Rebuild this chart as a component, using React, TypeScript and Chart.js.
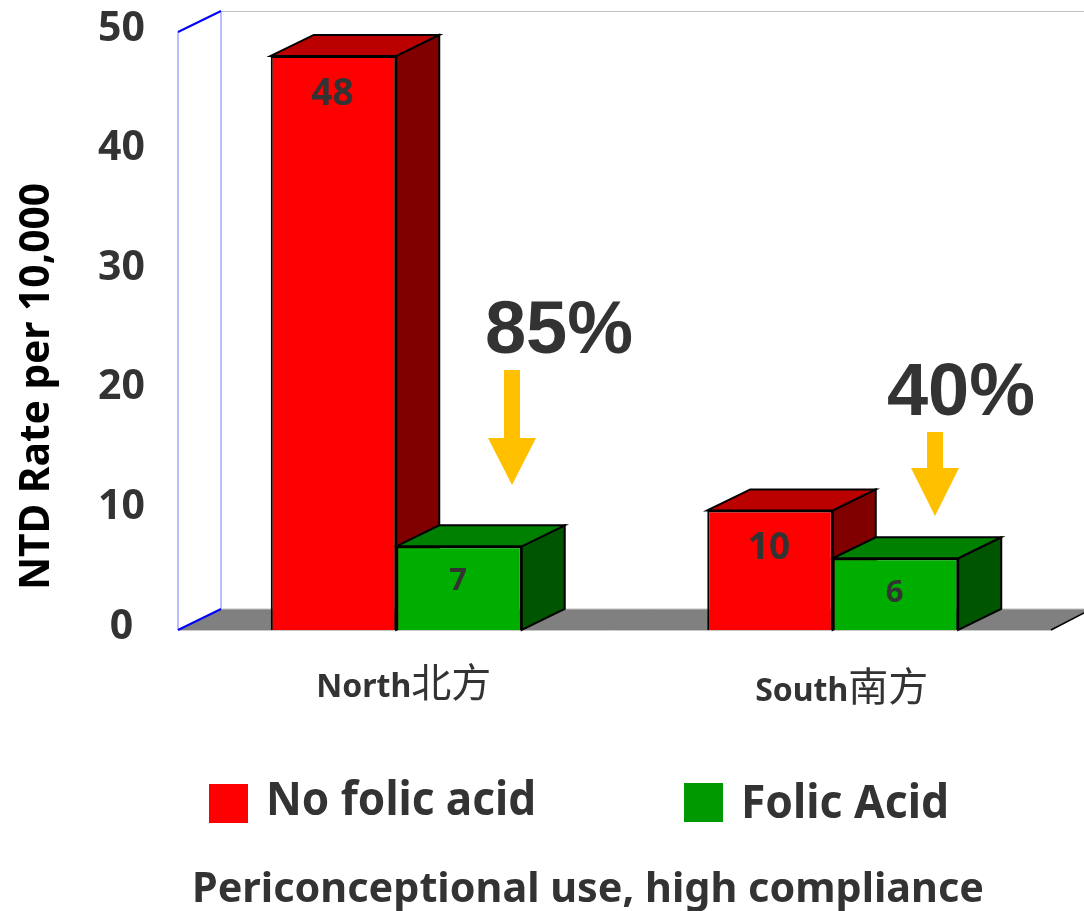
import React, { useEffect, useRef } from "react";
import { Chart, registerables } from "chart.js";

Chart.register(...registerables);

const categories = ["North北方", "South南方"];
const noFolicAcid = [48, 10];
const folicAcid = [7, 6];
const seriesNames = ["No folic acid", "Folic Acid"];
const reductions = ["85%", "40%"];
const axisTitle = "NTD Rate per 10,000";
const caption = "Periconceptional use, high compliance";

const SANS = '"Noto Sans", "Noto Sans CJK SC", sans-serif';
const INK = "#333333";
const DEPTH_X = 43;
const DEPTH_Y = -21;

const faceColors = [
  { front: "#ff0000", top: "#bb0000", side: "#800000", swatch: "#ff0000" },
  { front: "#00ae00", top: "#008000", side: "#005500", swatch: "#009900" },
];

function poly(ctx: CanvasRenderingContext2D, pts: number[][], fill: string | null, stroke: string | null, lw = 2) {
  ctx.beginPath();
  pts.forEach(([x, y], i) => (i ? ctx.lineTo(x, y) : ctx.moveTo(x, y)));
  ctx.closePath();
  if (fill) {
    ctx.fillStyle = fill;
    ctx.fill();
  }
  if (stroke) {
    ctx.strokeStyle = stroke;
    ctx.lineWidth = lw;
    ctx.lineJoin = "miter";
    ctx.stroke();
  }
}

function line(ctx: CanvasRenderingContext2D, x1: number, y1: number, x2: number, y2: number, color: string, lw: number) {
  ctx.beginPath();
  ctx.moveTo(x1, y1);
  ctx.lineTo(x2, y2);
  ctx.strokeStyle = color;
  ctx.lineWidth = lw;
  ctx.stroke();
}

function text(ctx: CanvasRenderingContext2D, s: string, x: number, y: number, font: string, color: string, align: CanvasTextAlign = "center", maxWidth?: number) {
  ctx.font = font;
  ctx.fillStyle = color;
  ctx.textAlign = align;
  ctx.textBaseline = "alphabetic";
  if (maxWidth) ctx.fillText(s, x, y, maxWidth);
  else ctx.fillText(s, x, y);
}

function arrow(ctx: CanvasRenderingContext2D, cx: number, top: number, neck: number, tip: number) {
  poly(
    ctx,
    [
      [cx - 8, top],
      [cx + 8, top],
      [cx + 8, neck],
      [cx + 24, neck],
      [cx, tip],
      [cx - 24, neck],
      [cx - 8, neck],
    ],
    "#ffc000",
    null
  );
}

const box3d = {
  id: "box3d",
  beforeDatasetsDraw(chart: any) {
    const { ctx, scales } = chart;
    const x = scales.x;
    const y = scales.y;
    const y0 = y.getPixelForValue(0);
    const yMax = y.getPixelForValue(50);
    const L = x.left;
    const R = x.right;
    ctx.save();
    // walls
    line(ctx, L + DEPTH_X, yMax + DEPTH_Y + 0.5, 1084, yMax + DEPTH_Y + 0.5, "#c0c0c0", 1);
    line(ctx, L, yMax, L, y0, "#bbbbff", 2);
    line(ctx, L + DEPTH_X, yMax + DEPTH_Y, L + DEPTH_X, y0 + DEPTH_Y, "#bbbbff", 2);
    // floor
    poly(ctx, [[L, y0], [L + DEPTH_X, y0 + DEPTH_Y], [1084, y0 + DEPTH_Y], [1084, y0 - 17], [R, y0]], "#808080", null);
    line(ctx, L + DEPTH_X, y0 + DEPTH_Y, 1084, y0 + DEPTH_Y, "#c0c0c0", 1);
    line(ctx, L, y0 + 0.5, R, y0 + 0.5, "#c8c8c8", 1);
    line(ctx, R, y0, 1084, y0 - 17, "#000000", 1.5);
    line(ctx, L, yMax, L + DEPTH_X, yMax + DEPTH_Y, "#0000ff", 2);
    line(ctx, L, y0, L + DEPTH_X, y0 + DEPTH_Y, "#0000ff", 2);
    // extruded faces, back to front
    chart.data.labels.forEach((_: string, i: number) => {
      chart.data.datasets.forEach((_d: any, di: number) => {
        const bar = chart.getDatasetMeta(di).data[i];
        const p = bar.getProps(["x", "y", "base", "width"], true);
        const l = p.x - p.width / 2;
        const r = p.x + p.width / 2;
        const c = faceColors[di];
        poly(ctx, [[r, p.y], [r + DEPTH_X, p.y + DEPTH_Y], [r + DEPTH_X, p.base + DEPTH_Y], [r, p.base]], c.side, "#000000");
        poly(ctx, [[l, p.y], [l + DEPTH_X, p.y + DEPTH_Y], [r + DEPTH_X, p.y + DEPTH_Y], [r, p.y]], c.top, "#000000");
      });
    });
    ctx.restore();
  },
  afterDatasetsDraw(chart: any) {
    const { ctx, scales } = chart;
    const x = scales.x;
    ctx.save();
    // value labels inside the bars
    const labelDrop = [49, 44];
    const labelSize = [37, 31];
    chart.data.datasets.forEach((d: any, di: number) => {
      d.data.forEach((v: number, i: number) => {
        const bar = chart.getDatasetMeta(di).data[i];
        const p = bar.getProps(["x", "y"], true);
        text(ctx, String(v), p.x - 1, p.y + labelDrop[di], `bold ${labelSize[di]}px ${SANS}`, INK);
      });
    });
    // category labels: Latin and CJK parts have different sizes in the reference
    const catBase = [697, 701];
    const catShift = [7.5, 9];
    categories.forEach((c, i) => {
      const latin = c.replace(/[^\x00-\x7f]/g, "");
      const cjk = c.replace(/[\x00-\x7f]/g, "");
      const latinFont = `bold 32px ${SANS}`;
      const cjkFont = `40px "Noto Sans CJK SC"`;
      ctx.font = latinFont;
      const w1 = ctx.measureText(latin).width;
      ctx.font = cjkFont;
      const w2 = ctx.measureText(cjk).width;
      const start = x.getPixelForValue(i) + catShift[i] - (w1 + w2) / 2;
      text(ctx, latin, start, catBase[i], latinFont, INK, "left");
      text(ctx, cjk, start + w1, catBase[i], cjkFont, INK, "left");
    });
    // axis title
    ctx.save();
    ctx.translate(49, 386.5);
    ctx.rotate(-Math.PI / 2);
    text(ctx, axisTitle, 0, 0, `bold 41px ${SANS}`, "#000000", "center", 407);
    ctx.restore();
    // reductions
    text(ctx, reductions[0], 559, 353, 'bold 74px "Liberation Sans"', INK);
    text(ctx, reductions[1], 961, 415, 'bold 74px "Liberation Sans"', INK);
    arrow(ctx, 512, 370, 438, 485);
    arrow(ctx, 935, 432, 468, 516);
    // legend
    ctx.fillStyle = faceColors[0].swatch;
    ctx.fillRect(209, 784, 39, 39);
    ctx.fillStyle = faceColors[1].swatch;
    ctx.fillRect(684, 783, 39, 39);
    text(ctx, seriesNames[0], 266, 815, `bold 46px ${SANS}`, INK, "left", 270);
    text(ctx, seriesNames[1], 741, 818, `bold 46px ${SANS}`, INK, "left", 208);
    // caption
    text(ctx, caption, 192, 902, `bold 42px ${SANS}`, INK, "left", 792);
    ctx.restore();
  },
};

export default function App() {
  const ref = useRef<HTMLCanvasElement>(null);
  useEffect(() => {
    if (!ref.current) return;
    const chart = new Chart(ref.current, {
      type: "bar",
      data: {
        labels: categories,
        datasets: [
          { label: seriesNames[0], data: noFolicAcid, backgroundColor: faceColors[0].front, borderColor: "#000000", borderWidth: 2 },
          { label: seriesNames[1], data: folicAcid, backgroundColor: faceColors[1].front, borderColor: "#000000", borderWidth: 2 },
        ],
      },
      options: {
        responsive: false,
        animation: false,
        layout: { padding: { top: 32, right: 33, left: 0, bottom: 0 } },
        datasets: { bar: { barPercentage: 1, categoryPercentage: 0.575 } },
        plugins: { legend: { display: false }, tooltip: { enabled: false } },
        scales: {
          x: {
            grid: { display: false },
            border: { display: false },
            ticks: { display: false },
            afterFit: (s: any) => {
              s.height = 281;
              s.paddingLeft = 0;
              s.paddingRight = 0;
            },
          },
          y: {
            min: 0,
            max: 50,
            grid: { display: false, drawTicks: false },
            border: { display: false },
            ticks: {
              stepSize: 10,
              crossAlign: "center",
              padding: 33,
              labelOffset: -3,
              color: INK,
              font: { family: SANS, size: 41, weight: "bold" },
            },
            afterFit: (s: any) => {
              s.width = 178;
              s.paddingTop = 0;
              s.paddingBottom = 0;
            },
          },
        },
      } as any,
      plugins: [box3d],
    });
    return () => chart.destroy();
  }, []);
  return (
    <canvas
      ref={ref}
      width={1084}
      height={911}
      style={{ position: "fixed", left: 0, top: 0, width: 1084, height: 911, background: "#fff", display: "block" }}
    />
  );
}
